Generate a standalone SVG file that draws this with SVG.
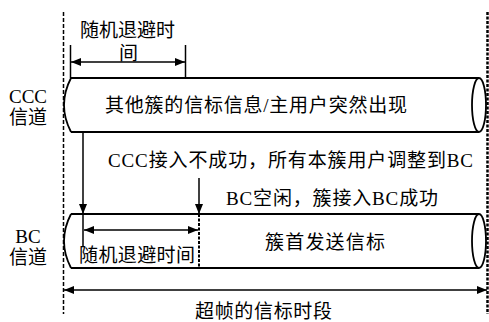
<svg xmlns="http://www.w3.org/2000/svg" width="489" height="322" viewBox="0 0 489 322">
<style>
text{font-family:"Liberation Serif","Noto Sans CJK SC",serif;font-size:19px;fill:#000}
.ln{stroke:#000;stroke-width:1.5;fill:none}
.cyl{stroke:#000;stroke-width:1.8;fill:none}
</style>
<defs>
<marker id="ah" viewBox="0 0 10 8" refX="10" refY="4" markerWidth="10" markerHeight="8" markerUnits="userSpaceOnUse" orient="auto-start-reverse">
<path d="M0,0 L10,4 L0,8 Z" fill="#000"/>
</marker>
</defs>
<g id="bounds">
<line x1="63.5" y1="12" x2="63.5" y2="314" stroke="#000" stroke-width="1.5" stroke-dasharray="4,2"/>
<line x1="487.5" y1="12" x2="487.5" y2="314" stroke="#000" stroke-width="2.5" stroke-dasharray="3,1.5"/>
</g>
<g id="labels">
<text x="28" y="103" text-anchor="middle">CCC</text>
<text x="28" y="124" text-anchor="middle">信道</text>
<text x="28" y="243" text-anchor="middle">BC</text>
<text x="28" y="264" text-anchor="middle">信道</text>
</g>
<g id="ccc">
<path class="cyl" d="M71,78 L479,78 M71,132 L479,132 M71,78 Q57,105 71,132"/>
<ellipse class="cyl" cx="479" cy="105" rx="7" ry="27"/>
<text x="105" y="112" textLength="302" lengthAdjust="spacing">其他簇的信标信息/主用户突然出现</text>
</g>
<g id="bc">
<path class="cyl" d="M71,214 L479,214 M71,268 L479,268 M71,214 Q57,241 71,268"/>
<ellipse class="cyl" cx="479" cy="241" rx="7" ry="27"/>
<text x="265" y="249" textLength="120" lengthAdjust="spacing">簇首发送信标</text>
</g>
<g id="backoff-top">
<text x="80" y="37" textLength="95" lengthAdjust="spacing">随机退避时</text>
<text x="119" y="60">间</text>
</g>
<g id="backoff-bottom">
<text x="79" y="262" textLength="116" lengthAdjust="spacing">随机退避时间</text>
</g>
<g id="messages">
<text x="108" y="167" textLength="365" lengthAdjust="spacing">CCC接入不成功，所有本簇用户调整到BC</text>
<text x="226" y="205" textLength="212" lengthAdjust="spacing">BC空闲，簇接入BC成功</text>
<text x="195" y="318" textLength="137" lengthAdjust="spacing">超帧的信标时段</text>
</g>
<g id="connectors">
<line class="ln" x1="70.5" y1="45" x2="70.5" y2="78"/>
<line class="ln" x1="185.5" y1="45" x2="185.5" y2="78"/>
<line class="ln" x1="71" y1="62" x2="185" y2="62" marker-start="url(#ah)" marker-end="url(#ah)"/>
<line class="ln" x1="83" y1="132" x2="83" y2="214" marker-end="url(#ah)"/>
<line class="ln" x1="83" y1="214" x2="83" y2="247"/>
<line class="ln" x1="199" y1="178" x2="199" y2="214" marker-end="url(#ah)"/>
<line x1="199" y1="214" x2="199" y2="268" stroke="#000" stroke-width="2" stroke-dasharray="3,1.5"/>
<line class="ln" x1="84" y1="230" x2="198" y2="230" marker-start="url(#ah)" marker-end="url(#ah)"/>
<line class="ln" x1="64" y1="290" x2="487" y2="290" marker-start="url(#ah)" marker-end="url(#ah)"/>
</g>
</svg>
